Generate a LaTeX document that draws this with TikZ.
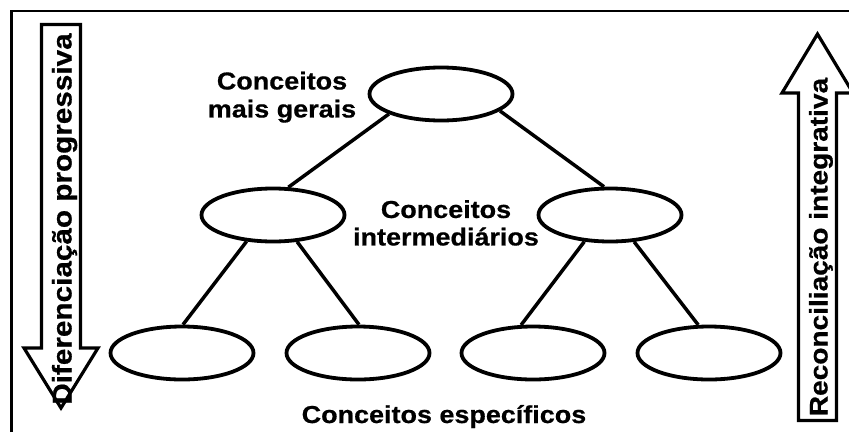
\documentclass[tikz,border=0pt]{standalone}
\usepackage{fontspec}
\newfontfamily\bsans{Liberation Sans Bold}[FakeStretch=1.1,FakeBold=0.6]
\usetikzlibrary{shapes.geometric}
\begin{document}
\begin{tikzpicture}[x=1pt,y=-1pt,
  concept/.style={ellipse,draw,line width=3.8pt,minimum width=143pt,minimum height=53pt,inner sep=0pt},
  link/.style={line width=3.5pt},
  bigarrow/.style={draw,line width=3.2pt,line join=miter},
  lbl/.style={font=\bsans\fontsize{24.5}{27.5}\selectfont,align=center,inner sep=0pt},
  arrowlbl/.style={inner sep=0pt,rotate=90,anchor=base}]
\useasboundingbox (0,0) rectangle (849,432);
% frame (left and top only)
\draw[line width=2.6pt] (11.5,432) -- (11.5,11) -- (849,11);
% ellipses
\node[concept] (top) at (441,94) {};
\node[concept] (ml) at (273,215) {};
\node[concept] (mr) at (610,215) {};
\node[concept] (b1) at (182,353) {};
\node[concept] (b2) at (358,353) {};
\node[concept] (b3) at (533,353) {};
\node[concept] (b4) at (709,353) {};
% connectors
\draw[link] (top.201) -- (ml.61);
\draw[link] (top.344) -- (mr.102);
\draw[link] (ml.225) -- (b1.88);
\draw[link] (ml.312) -- (b2.88);
\draw[link] (mr.226) -- (b3.113);
\draw[link] (mr.312) -- (b4.111);
% labels
\node[lbl,anchor=north] (lgen) at (282,71.5) {Conceitos\\[0.5pt]mais gerais};
\node[lbl,anchor=north] (lint) at (446,200) {Conceitos\\intermedi\'arios};
\node[lbl,anchor=base] (lesp) at (444,423) {Conceitos espec\'ificos};
% left arrow (down)
\draw[bigarrow] (41.5,24.5) -- (80.5,24.5) -- (80.5,348) -- (98,348) -- (61,408) -- (24,348) -- (41.5,348) -- cycle;
\node[arrowlbl,font=\bsans\fontsize{27}{30}\selectfont] (ldiff) at (71.5,219) {Diferencia\c{c}\~ao progressiva};
% right arrow (up)
\draw[bigarrow] (798.5,420.5) -- (836.5,420.5) -- (836.5,93) -- (853,93) -- (817.5,34) -- (782,93) -- (798.5,93) -- cycle;
\node[arrowlbl,font=\bsans\fontsize{25.5}{28}\selectfont] (lrec) at (827.5,247) {Reconcilia\c{c}\~ao integrativa};
\end{tikzpicture}
\end{document}
